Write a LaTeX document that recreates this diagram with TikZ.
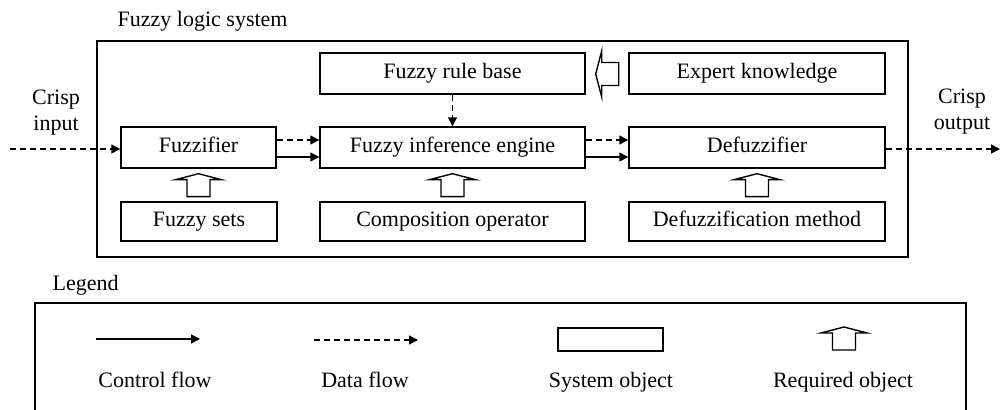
\documentclass[tikz,border=0pt]{standalone}
\usepackage{fontspec}
\setmainfont{Liberation Serif}
\usetikzlibrary{arrows.meta,calc}
\begin{document}
\begin{tikzpicture}[x=0.5pt,y=-0.5pt,
  font=\fontsize{11}{13}\selectfont,
  line width=0.7pt,
  fixtext/.style={text height=7.6pt, text depth=2.4pt},
  sysbox/.style={draw, inner sep=0pt, minimum height=20.5pt, fixtext},
  lowbox/.style={sysbox, minimum height=19.5pt},
  ctrl/.style={-{Triangle[length=4.5pt,width=4.5pt]}},
  data/.style={ctrl, dash pattern=on 3pt off 2pt},
  reqarrow/.pic={\draw[line join=miter] (0,0) -- (-23,6) -- (-11.5,6) -- (-11.5,23) -- (11.5,23) -- (11.5,6) -- (23,6) -- cycle;},
]
\useasboundingbox (0,0) rectangle (1001,410);

% title and outer box
\node[anchor=west, inner sep=0pt] (title) at (117,21) {Fuzzy logic system};
\node[draw, inner sep=0pt, minimum width=405.5pt, minimum height=108pt] (fls) at (502.5,149) {};

% system objects
\node[sysbox, minimum width=132.5pt] (rules) at (452.5,73.5) {Fuzzy rule base};
\node[sysbox, minimum width=128pt] (expert) at (757,73.5) {Expert knowledge};
\node[sysbox, minimum width=77.5pt] (fuzzifier) at (198.5,147.5) {Fuzzifier};
\node[sysbox, minimum width=132.5pt] (engine) at (452.5,147.5) {Fuzzy inference engine};
\node[sysbox, minimum width=128pt] (defuzz) at (757,147.5) {Defuzzifier};
\node[lowbox, minimum width=78pt] (fsets) at (199,221.5) {Fuzzy sets};
\node[lowbox, minimum width=132.5pt] (compop) at (452.5,221.5) {Composition operator};
\node[lowbox, minimum width=128pt] (defmeth) at (757,221.5) {Defuzzification method};

% crisp labels
\node[align=center, inner sep=0pt] (cin) at (56,113) {Crisp\\input};
\node[align=center, inner sep=0pt] (cout) at (962,112) {Crisp\\output};

% flows
\coordinate (inS) at (10,149);
\coordinate (outE) at (1000,149);
\draw[data] (inS) -- (inS -| fuzzifier.west);
\draw[data] (outE -| defuzz.east) -- (outE);
\draw[data] ($(fuzzifier.east)+(0,-7.5)$) -- ($(engine.west)+(0,-7.5)$);
\draw[ctrl] ($(fuzzifier.east)+(0,9.5)$) -- ($(engine.west)+(0,9.5)$);
\draw[data] ($(engine.east)+(0,-7.5)$) -- ($(defuzz.west)+(0,-7.5)$);
\draw[ctrl] ($(engine.east)+(0,9.5)$) -- ($(defuzz.west)+(0,9.5)$);
\draw[data] (rules.south) -- (engine.north);

% required objects
\pic[rotate=90] at ($(rules.east)+(10,0.5)$) {reqarrow};
\pic at ($(fuzzifier.south)+(0,5)$) {reqarrow};
\pic at ($(engine.south)+(0,5)$) {reqarrow};
\pic at ($(defuzz.south)+(0,5)$) {reqarrow};

% legend
\node[anchor=west, inner sep=0pt] (legtitle) at (52,285) {Legend};
\draw (35,412) -- (35,303) -- (966,303) -- (966,412);
\coordinate (c1) at (96,339);
\coordinate (c2) at (200,339);
\draw[ctrl] (c1) -- (c2);
\coordinate (d1) at (314,340);
\coordinate (d2) at (418,340);
\draw[data] (d1) -- (d2);
\node[draw, inner sep=0pt, minimum width=52.5pt, minimum height=11.5pt] (legbox) at (610.5,339.5) {};
\pic at (844,327) {reqarrow};
\node[fixtext] (lc) at (155,382) {Control flow};
\node[fixtext] (ld) at (365,382) {Data flow};
\node[fixtext] (ls) at (611,382) {System object};
\node[fixtext] (lr) at (843,382) {Required object};
\end{tikzpicture}
\end{document}
